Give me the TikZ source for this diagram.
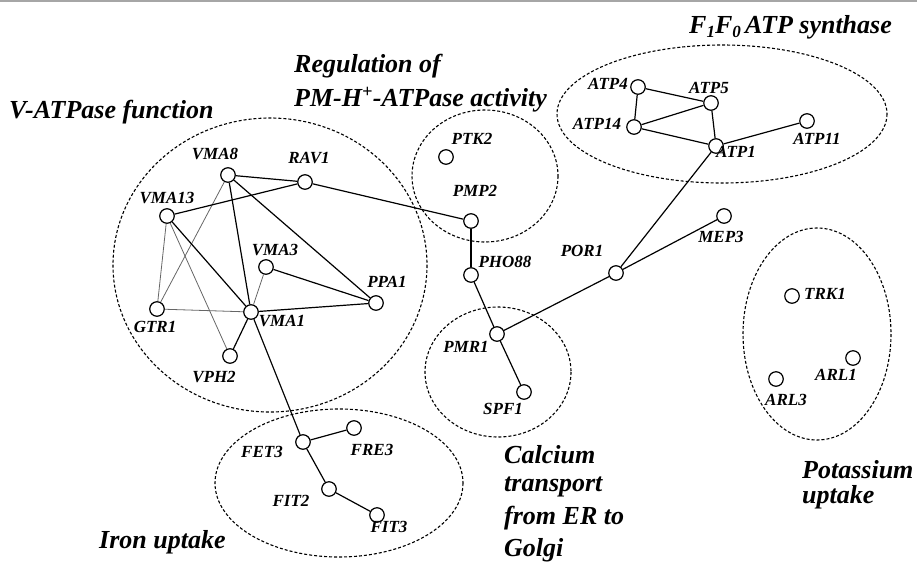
\documentclass[tikz,border=0pt]{standalone}
\usepackage{fontspec}
\setmainfont{Liberation Serif}
\begin{document}
\begin{tikzpicture}[x=1pt,y=-1pt,
  gene/.style={circle,draw,line width=1.2pt,minimum size=14.5pt,inner sep=0pt,fill=white},
  lbl/.style={font=\fontsize{17}{19}\selectfont\bfseries\itshape,inner sep=0pt},
  ttl/.style={font=\fontsize{26}{32}\selectfont\bfseries\itshape,inner sep=0pt,align=left},
  grp/.style={draw,line width=1.1pt,dash pattern=on 3pt off 2pt},
  link/.style={line width=1.2pt},
  faint/.style={line width=0.8pt,black!60}]
\useasboundingbox (0,0) rectangle (917,562);
\draw[black!35,line width=2pt] (0,1) -- (917,1);

% groups
\draw[grp] (270,265) ellipse [x radius=157, y radius=147];
\draw[grp] (485,176) ellipse [x radius=73, y radius=66];
\draw[grp] (722,114) ellipse [x radius=165, y radius=69];
\draw[grp] (498,372) ellipse [x radius=73, y radius=65];
\draw[grp] (339,483) ellipse [x radius=124, y radius=74];
\draw[grp] (817,334) ellipse [x radius=74, y radius=106];

% genes
\node[gene] (VMA8) at (228,175) {};
\node[gene] (RAV1) at (305,182) {};
\node[gene] (VMA13) at (167,216) {};
\node[gene] (VMA3) at (266,267) {};
\node[gene] (PPA1) at (376,303) {};
\node[gene] (VMA1) at (251,312) {};
\node[gene] (GTR1) at (157,309) {};
\node[gene] (VPH2) at (230,356) {};
\node[gene] (PTK2) at (446,157) {};
\node[gene] (PMP2) at (471,221) {};
\node[gene] (PHO88) at (471,275) {};
\node[gene] (PMR1) at (497,334) {};
\node[gene] (SPF1) at (524,392) {};
\node[gene] (POR1) at (616,273) {};
\node[gene] (MEP3) at (724,216) {};
\node[gene] (ATP4) at (638,87) {};
\node[gene] (ATP5) at (711,103) {};
\node[gene] (ATP14) at (634,127) {};
\node[gene] (ATP1) at (716,146) {};
\node[gene] (ATP11) at (807,121) {};
\node[gene] (FET3) at (303,442) {};
\node[gene] (FRE3) at (354,428) {};
\node[gene] (FIT2) at (329,489) {};
\node[gene] (FIT3) at (377,515) {};
\node[gene] (TRK1) at (792,296) {};
\node[gene] (ARL1) at (853,358) {};
\node[gene] (ARL3) at (776,379) {};

% edges
\draw[link] (VMA8) -- (RAV1);
\draw[link] (VMA8) -- (VMA1);
\draw[link] (VMA8) -- (PPA1);
\draw[faint] (VMA8) -- (GTR1);
\draw[link] (VMA13) -- (RAV1);
\draw[link] (RAV1) -- (PMP2);
\draw[faint] (VMA13) -- (GTR1);
\draw[link] (VMA13) -- (VMA1);
\draw[faint] (VMA13) -- (VPH2);
\draw[faint] (GTR1) -- (VMA1);
\draw[link] (VMA1) -- (PPA1);
\draw[faint] (VMA1) -- (VMA3);
\draw[link] (VMA3) -- (PPA1);
\draw[link] (VMA1) -- (VPH2);
\draw[link] (VMA1) -- (FET3);
\draw[link] (PMP2) -- (PHO88);
\draw[link] (PHO88) -- (PMR1);
\draw[link] (PMR1) -- (SPF1);
\draw[link] (PMR1) -- (POR1);
\draw[link] (POR1) -- (ATP1);
\draw[link] (POR1) -- (MEP3);
\draw[link] (ATP4) -- (ATP14);
\draw[link] (ATP4) -- (ATP5);
\draw[link] (ATP14) -- (ATP5);
\draw[link] (ATP14) -- (ATP1);
\draw[link] (ATP5) -- (ATP1);
\draw[link] (ATP1) -- (ATP11);
\draw[link] (FET3) -- (FRE3);
\draw[link] (FET3) -- (FIT2);
\draw[link] (FIT2) -- (FIT3);

% gene labels
\node[lbl] (lVMA8) at (215,154) {VMA8};
\node[lbl] (lRAV1) at (309,158) {RAV1};
\node[lbl] (lVMA13) at (167,198) {VMA13};
\node[lbl] (lVMA3) at (275,250) {VMA3};
\node[lbl] (lPPA1) at (387,282) {PPA1};
\node[lbl] (lVMA1) at (282,321) {VMA1};
\node[lbl] (lGTR1) at (155,327) {GTR1};
\node[lbl] (lVPH2) at (214,377) {VPH2};
\node[lbl] (lPTK2) at (472,139) {PTK2};
\node[lbl] (lPMP2) at (475,191) {PMP2};
\node[lbl] (lPHO88) at (505,262) {PHO88};
\node[lbl] (lPOR1) at (582,251) {POR1};
\node[lbl] (lMEP3) at (721,237) {MEP3};
\node[lbl] (lPMR1) at (466,347) {PMR1};
\node[lbl] (lSPF1) at (503,409) {SPF1};
\node[lbl] (lATP4) at (608,84) {ATP4};
\node[lbl] (lATP5) at (709,88) {ATP5};
\node[lbl] (lATP14) at (597,124) {ATP14};
\node[lbl] (lATP1) at (736,152) {ATP1};
\node[lbl] (lATP11) at (817,139) {ATP11};
\node[lbl] (lFET3) at (262,452) {FET3};
\node[lbl] (lFRE3) at (372,450) {FRE3};
\node[lbl] (lFIT2) at (291,501) {FIT2};
\node[lbl] (lFIT3) at (389,527) {FIT3};
\node[lbl] (lTRK1) at (825,294) {TRK1};
\node[lbl] (lARL1) at (836,375) {ARL1};
\node[lbl] (lARL3) at (786,400) {ARL3};

% group titles
\node[ttl,anchor=west] (tV) at (9,112) {V-ATPase function};
\node[ttl,anchor=west] (tR1) at (294,66) {Regulation of};
\node[ttl,anchor=west] (tR2) at (294,100) {PM-H\textsuperscript{+}-ATPase activity};
\node[ttl,anchor=west] (tF) at (689,27) {F\raisebox{-0.35ex}{\fontsize{17}{17}\selectfont\itshape 1}F\raisebox{-0.35ex}{\fontsize{17}{17}\selectfont\itshape 0}\,ATP synthase};
\node[ttl,anchor=west] (tC1) at (504,455) {Calcium};
\node[ttl,anchor=west] (tC2) at (504,487) {transport};
\node[ttl,anchor=west] (tC3) at (504,518) {from ER to};
\node[ttl,anchor=west] (tC4) at (504,550) {Golgi};
\node[ttl,anchor=west] (tI) at (99,542) {Iron uptake};
\node[ttl,anchor=west] (tP1) at (802,470) {Potassium};
\node[ttl,anchor=west] (tP2) at (802,497) {uptake};
\end{tikzpicture}
\end{document}
